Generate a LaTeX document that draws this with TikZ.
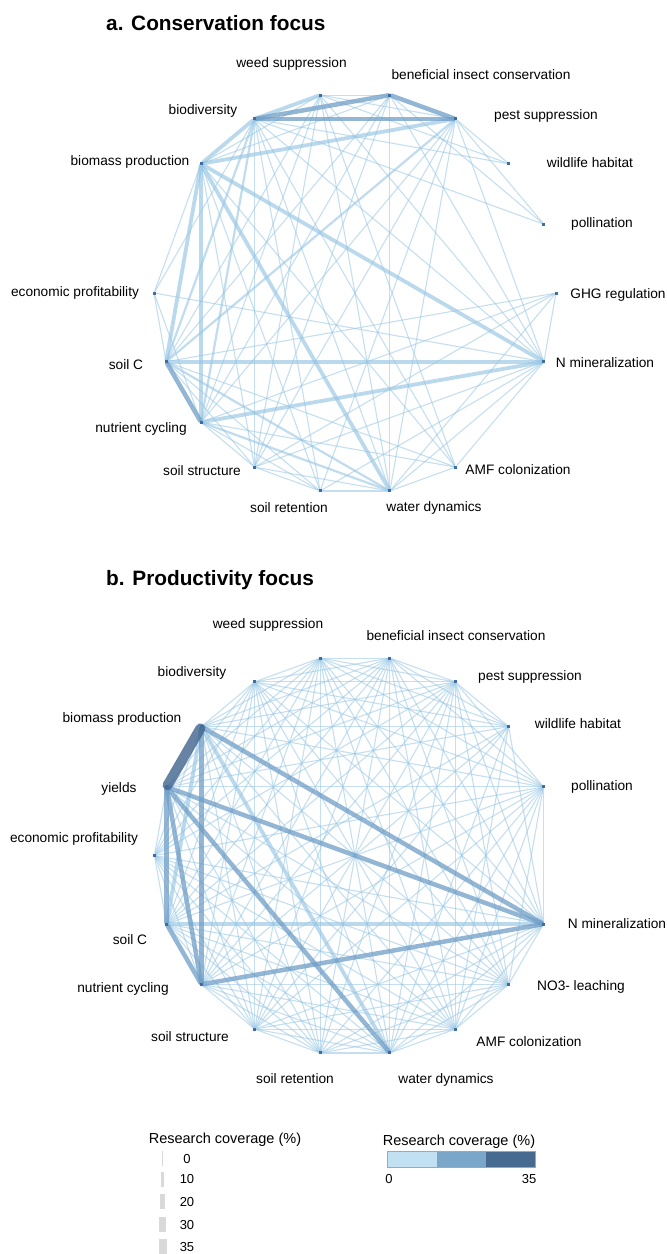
\documentclass[tikz,border=0pt]{standalone}
\usepackage{fontspec}
\setmainfont{Liberation Sans}
\usetikzlibrary{calc,backgrounds}

\definecolor{edgelite}{RGB}{150,198,228}
\definecolor{edgemid}{RGB}{112,158,198}
\definecolor{edgedark}{RGB}{66,101,142}
\definecolor{nodeblue}{RGB}{62,108,165}
\definecolor{barfill}{RGB}{217,217,217}
\definecolor{cbone}{RGB}{193,225,243}
\definecolor{cbtwo}{RGB}{121,166,201}
\definecolor{cbthree}{RGB}{70,106,144}

\begin{document}
\begin{tikzpicture}[x=1pt,y=1pt,
    dot/.style={fill=nodeblue,inner sep=0pt,minimum size=3pt},
    lab/.style={font=\fontsize{13.7}{16}\selectfont,anchor=base,inner sep=0pt},
    ttl/.style={font=\fontsize{20.8}{24}\selectfont\bfseries,anchor=base west,inner sep=0pt},
    lgd/.style={font=\fontsize{14.5}{17}\selectfont,anchor=base,inner sep=0pt},
    num/.style={font=\fontsize{13}{15}\selectfont,anchor=base,inner sep=0pt},
    bar/.style={fill=barfill,inner sep=0pt,minimum height=15pt},
    thinline/.style={draw=edgelite,draw opacity=0.55,line width=1.1pt,line cap=round},
    midline/.style={draw=edgelite,draw opacity=0.6,line width=2.2pt,line cap=round},
    fatline/.style={draw=edgelite,draw opacity=0.65,line width=3.8pt,line cap=round},
    blueline/.style={draw=edgemid,draw opacity=0.75,line width=4.5pt,line cap=round},
    darkline/.style={draw=edgedark,draw opacity=0.8,line width=10pt,line cap=round}]

\useasboundingbox (0,0) rectangle (667,-1254);
\begin{pgfonlayer}{background}
\fill[white] (0,0) rectangle (667,-1254);
\end{pgfonlayer}

% centres of the two circles
\coordinate (ca) at (355,-293);
\coordinate (cb) at (355,-855.5);

% a. conservation focus
\node[ttl] (ta) at (106,-30.5) {a. Conservation focus};

\foreach \n/\a in {W/100,BI/80,PS/60,WH/40,PO/20,GHG/0,NM/-20,AMF/-60,WD/-80,SR/-100,
    SS/-120,NC/-140,SC/-160,EP/180,BM/140,BD/120}
  \node[dot] (a\n) at ($(ca)+(\a:201)$) {};

\node[lab] (la-W) at (291.5,-67) {weed suppression};
\node[lab] (la-BI) at (481,-79) {beneficial insect conservation};
\node[lab] (la-BD) at (203,-114) {biodiversity};
\node[lab] (la-PS) at (546,-119) {pest suppression};
\node[lab] (la-BM) at (130,-165) {biomass production};
\node[lab] (la-WH) at (590,-167) {wildlife habitat};
\node[lab] (la-PO) at (602,-227) {pollination};
\node[lab] (la-EP) at (75,-296) {economic profitability};
\node[lab] (la-GHG) at (618,-298) {GHG regulation};
\node[lab] (la-NM) at (605,-367) {N mineralization};
\node[lab] (la-SC) at (126,-369) {soil C};
\node[lab] (la-NC) at (141,-432) {nutrient cycling};
\node[lab] (la-SS) at (202,-475) {soil structure};
\node[lab] (la-AMF) at (518,-474) {AMF colonization};
\node[lab] (la-SR) at (289,-512) {soil retention};
\node[lab] (la-WD) at (434,-511) {water dynamics};

\begin{pgfonlayer}{background}
\foreach \u/\v in {W/BI,W/PS,W/BM,W/WH,W/SC,W/NC,W/SS,W/WD,W/NM,W/AMF,
    BI/BM,BI/PO,BI/SC,BI/NC,BI/SS,BI/WD,BI/NM,
    PS/WH,PS/PO,PS/NC,PS/SS,PS/SR,PS/WD,PS/NM,
    BD/WH,BD/PO,BD/EP,BD/SS,BD/SR,BD/WD,BD/NM,BD/AMF,
    BM/EP,BM/SS,BM/SR,BM/AMF,EP/SC,EP/NC,EP/NM,
    GHG/NM,GHG/SC,GHG/NC,GHG/SS,GHG/WD,
    SC/SS,SC/SR,SC/AMF,NC/SS,NC/SR,NC/AMF,
    SS/SR,SS/WD,SS/NM,SR/WD,SR/NM,WD/NM,WD/AMF,AMF/NM}
  \draw[thinline] (a\u) -- (a\v);
\foreach \u/\v in {BD/SC,BD/NC,SC/WD,NC/WD,PS/SC}
  \draw[midline] (a\u) -- (a\v);
\foreach \u/\v in {SC/NM,NC/NM,BM/NM,BM/PS,BM/NC,BM/SC,BM/WD,BD/W,BM/BD}
  \draw[fatline] (a\u) -- (a\v);
\foreach \u/\v in {BD/BI,BD/PS,BI/PS,SC/NC}
  \draw[blueline] (a\u) -- (a\v);
\end{pgfonlayer}

% b. productivity focus
\node[ttl] (tb) at (106,-585.5) {b. Productivity focus};

\foreach \n/\a in {W/100,BI/80,PS/60,WH/40,PO/20,NM/-20,NO/-40,AMF/-60,WD/-80,SR/-100,
    SS/-120,NC/-140,SC/-160,EP/180,Y/160,BM/140,BD/120}
  \node[dot] (b\n) at ($(cb)+(\a:200.5)$) {};

\node[lab] (lb-W) at (268,-628) {weed suppression};
\node[lab] (lb-BI) at (456,-640) {beneficial insect conservation};
\node[lab] (lb-BD) at (192,-676) {biodiversity};
\node[lab] (lb-PS) at (530,-680) {pest suppression};
\node[lab] (lb-BM) at (122,-722) {biomass production};
\node[lab] (lb-WH) at (578,-728) {wildlife habitat};
\node[lab] (lb-Y) at (119,-792) {yields};
\node[lab] (lb-PO) at (602,-790) {pollination};
\node[lab] (lb-EP) at (74,-842) {economic profitability};
\node[lab] (lb-NM) at (617,-928) {N mineralization};
\node[lab] (lb-SC) at (130,-944) {soil C};
\node[lab] (lb-NC) at (123,-992) {nutrient cycling};
\node[lab] (lb-NO) at (581,-990) {NO3- leaching};
\node[lab] (lb-SS) at (190,-1041) {soil structure};
\node[lab] (lb-AMF) at (529,-1046) {AMF colonization};
\node[lab] (lb-SR) at (295,-1083) {soil retention};
\node[lab] (lb-WD) at (446,-1083) {water dynamics};

\begin{pgfonlayer}{background}
\foreach \u/\v in {W/BI,W/PS,W/WH,W/PO,W/NM,W/NO,W/AMF,W/WD,W/SR,W/SS,W/NC,W/SC,W/EP,W/Y,W/BM,W/BD,
    BI/PS,BI/WH,BI/PO,BI/NM,BI/NO,BI/AMF,BI/WD,BI/SR,BI/SS,BI/NC,BI/SC,BI/EP,BI/Y,BI/BM,BI/BD,
    PS/WH,PS/PO,PS/NM,PS/NO,PS/AMF,PS/WD,PS/SR,PS/SS,PS/NC,PS/SC,PS/EP,PS/Y,PS/BM,PS/BD,
    WH/NM,WH/AMF,WH/WD,WH/SS,WH/NC,WH/SC,WH/Y,WH/BM,WH/BD,
    PO/NM,PO/NO,PO/AMF,PO/WD,PO/SR,PO/SS,PO/NC,PO/SC,PO/EP,PO/Y,PO/BM,PO/BD,
    NM/NO,NM/AMF,NM/WD,NM/SR,NM/SS,NM/EP,NM/BD,
    NO/AMF,NO/WD,NO/SR,NO/SS,NO/NC,NO/SC,NO/EP,NO/Y,NO/BM,NO/BD,
    AMF/WD,AMF/SR,AMF/SS,AMF/NC,AMF/SC,AMF/EP,AMF/Y,AMF/BM,AMF/BD,
    WD/SR,WD/SS,WD/NC,WD/SC,WD/EP,WD/BD,
    SR/SS,SR/NC,SR/SC,SR/EP,SR/Y,SR/BM,SR/BD,
    SS/NC,SS/SC,SS/EP,SS/Y,SS/BM,SS/BD,
    NC/EP,NC/BD,SC/EP,SC/BD,EP/Y,EP/BM,EP/BD,Y/BD,BM/BD}
  \draw[thinline] (b\u) -- (b\v);
\foreach \u/\v in {SC/NM,BM/WD,BM/SC}
  \draw[fatline] (b\u) -- (b\v);
\foreach \u/\v in {Y/NM,BM/NM,NC/NM,Y/WD,Y/NC,BM/NC,Y/SC,SC/NC}
  \draw[blueline] (b\u) -- (b\v);
\draw[darkline] (bBM) -- (bY);
\end{pgfonlayer}

% legends
\node[lgd] (lg-size) at (225,-1143) {Research coverage (\%)};
\foreach \v/\w/\y in {0/1/1158.5,10/3.7/1179,20/5.3/1201.5,30/6.7/1224.5,35/8/1246.5} {
  \node[bar,minimum width=\w pt] (bar\v) at (162.5,-\y) {};
  \node[num] (n\v) at (187,-\y-4.6) {\v};
}

\node[lgd] (lg-col) at (459,-1145) {Research coverage (\%)};
\fill[cbone] (387,-1151) rectangle (436.7,-1167);
\fill[cbtwo] (436.7,-1151) rectangle (485.7,-1167);
\fill[cbthree] (485.7,-1151) rectangle (535,-1167);
\draw[gray!70,line width=0.8pt] (387,-1151) rectangle (535,-1167);
\node[num] (c0) at (389,-1183) {0};
\node[num] (c35) at (529,-1183) {35};

\end{tikzpicture}
\end{document}
